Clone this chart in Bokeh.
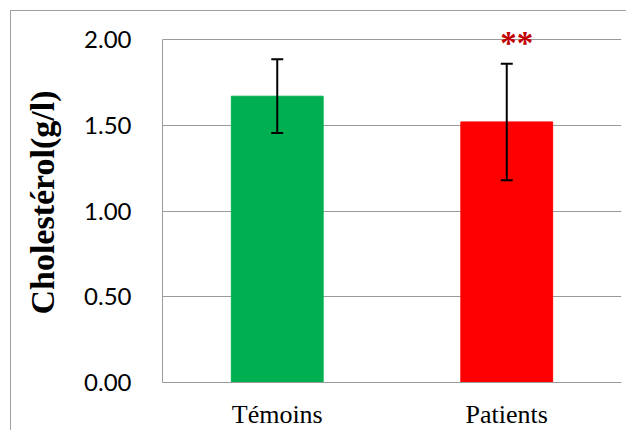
import numpy as np
from bokeh.plotting import figure
from bokeh.models import ColumnDataSource, Range1d, FixedTicker, Whisker, TeeHead, Label
from bokeh.embed import file_html
from bokeh.resources import INLINE

categories = ["Témoins", "Patients"]
means = [1.67, 1.52]
sds = [0.215, 0.34]
colors = ["#00b050", "#ff0000"]
y_ticks = [0.0, 0.5, 1.0, 1.5, 2.0]
y_tick_labels = ["0.00", "0.50", "1.00", "1.50", "2.00"]
signif = "**"

xs = list(np.arange(len(categories)) + 0.5)
lower = [m - s for m, s in zip(means, sds)]
upper = [m + s for m, s in zip(means, sds)]

src = ColumnDataSource(dict(x=xs, top=means, color=colors, lower=lower, upper=upper))

p = figure(width=616, height=420, output_backend="svg", toolbar_location=None,
           x_range=Range1d(0, len(categories)), y_range=Range1d(0, 2.1),
           min_border_left=151, min_border_top=11, min_border_right=6, min_border_bottom=46,
           styles={"border-left": "1px solid #a0a0a0", "border-top": "1px solid #a0a0a0",
                   "margin-left": "10px", "margin-top": "10px"})
p.outline_line_color = None
p.background_fill_color = "white"
p.border_fill_color = "white"

p.vbar(x="x", top="top", width=0.4, color="color", source=src)
p.add_layout(Whisker(base="x", lower="lower", upper="upper", source=src, level="overlay",
                     line_color="black", line_width=2,
                     upper_head=TeeHead(size=12, line_width=2, line_color="black"),
                     lower_head=TeeHead(size=12, line_width=2, line_color="black")))

p.add_layout(Label(x=xs[1], y=upper[1] + 0.12, text=signif, x_offset=10,
                   text_align="center", text_baseline="middle",
                   text_color="#c00000", text_font="Liberation Serif", text_font_style="bold",
                   text_font_size="33px"))

# axes
p.xaxis.ticker = FixedTicker(ticks=xs)
p.xaxis.major_label_overrides = {x: c for x, c in zip(xs, categories)}
p.xaxis.major_tick_line_color = None
p.xaxis.minor_tick_line_color = None
p.xaxis.axis_line_color = "#9a9a9a"
p.xaxis.major_label_text_font = "Liberation Serif"
p.xaxis.major_label_text_font_size = "26px"
p.xaxis.major_label_text_color = "black"
p.xaxis.major_label_standoff = 11

p.yaxis.ticker = FixedTicker(ticks=y_ticks)
p.yaxis.bounds = (0, 2.0)
p.yaxis.major_label_overrides = {t: l for t, l in zip(y_ticks, y_tick_labels)}
p.yaxis.major_tick_line_color = None
p.yaxis.minor_tick_line_color = None
p.yaxis.axis_line_color = "#9a9a9a"
p.yaxis.major_label_text_font = "Lato"
p.yaxis.major_label_text_font_size = "24px"
p.yaxis.major_label_text_color = "black"
p.yaxis.major_label_standoff = 25
p.yaxis.axis_label = "Cholestérol(g/l)"
p.yaxis.axis_label_text_font = "Liberation Serif"
p.yaxis.axis_label_text_font_style = "bold"
p.yaxis.axis_label_text_font_size = "34px"
p.yaxis.axis_label_text_color = "black"
p.yaxis.axis_label_standoff = 20

p.xgrid.grid_line_color = None
p.ygrid.grid_line_color = "#9a9a9a"
p.ygrid.ticker = FixedTicker(ticks=y_ticks)

open("out.html", "w").write(file_html(p, INLINE))
